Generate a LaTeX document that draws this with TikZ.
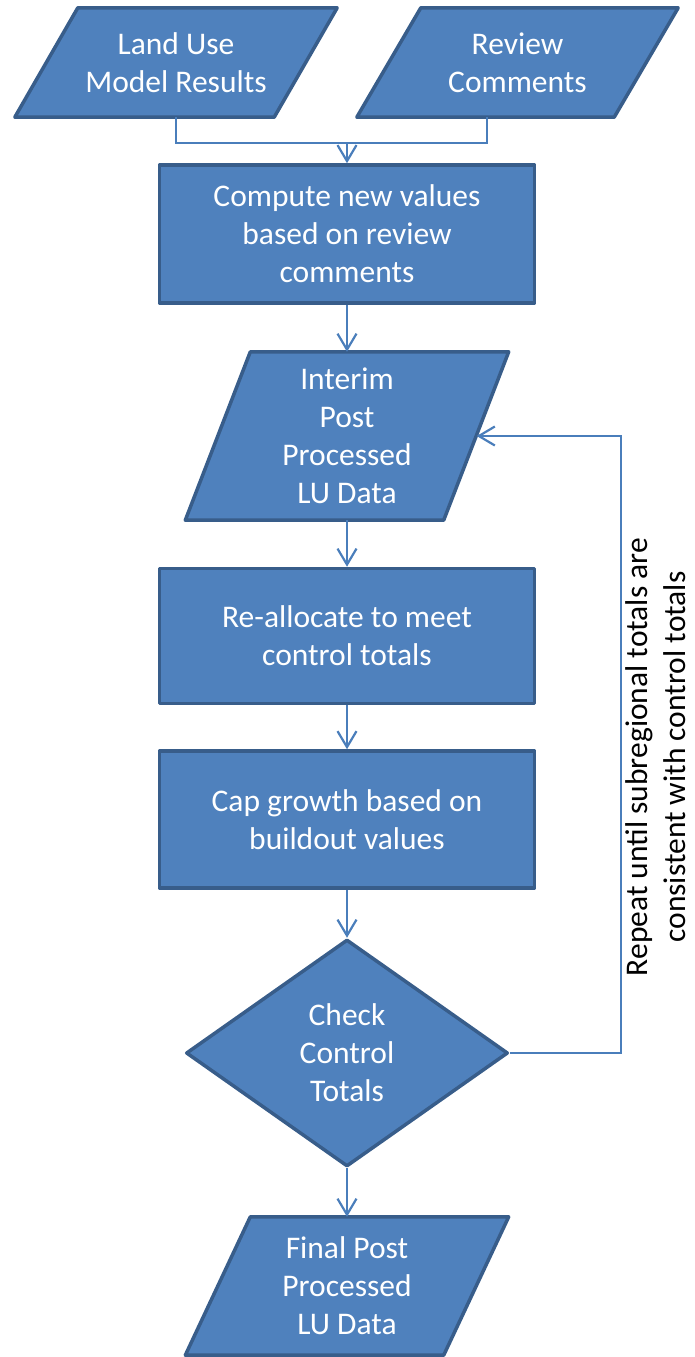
\documentclass[tikz,border=0pt]{standalone}
\usepackage{fontspec}
\setmainfont{Carlito}
\usetikzlibrary{shapes.geometric,arrows.meta,backgrounds,calc}

\definecolor{boxfill}{HTML}{4F81BD}
\definecolor{boxline}{HTML}{385D8A}
\definecolor{connline}{HTML}{4A7EBB}

\tikzset{
  boxtext/.style={align=center, text=white, inner sep=0pt,
    font=\fontsize{31.5}{38}\selectfont},
  process/.style={boxtext, rectangle, draw=boxline, fill=boxfill,
    line width=3.5pt, line join=round, minimum width=375pt, minimum height=#1},
  decision/.style={boxtext, diamond, draw=boxline, fill=boxfill,
    line width=3.5pt, line join=round, aspect=1.42,
    minimum width=322pt, minimum height=227pt},
  dataframe/.style={boxtext, rectangle, minimum width=#1},
  paraoutline/.style={draw=boxline, fill=boxfill, line width=3.5pt, line join=round},
  conn/.style={draw=connline, line width=2.2pt},
  flow/.style={conn, -{Straight Barb[length=16pt,width=19pt,line width=2.2pt]}},
  looplabel/.style={align=center, text=black, rotate=90,
    font=\fontsize{31.5}{38}\selectfont}
}

% parallelogram drawn behind a data node: #1 node name, #2 horizontal slant
\newcommand\dataslant[2]{%
  \path[paraoutline] ([xshift=#2]#1.north west) -- (#1.north east)
    -- ([xshift=-#2]#1.south east) -- (#1.south west) -- cycle;}

\begin{document}
\begin{tikzpicture}[x=1pt,y=-1pt]
\useasboundingbox (0,0) rectangle (695,1357);

% inputs
\node[dataframe=322pt, minimum height=109pt] (landuse) at (176,62.5) {Land Use\\Model Results};
\node[dataframe=321pt, minimum height=109pt] (review) at (517.5,62.5) {Review\\Comments};

% processing chain
\node[process=138pt] (compute) at (347,234) {Compute new values\\based on review\\comments};
\node[dataframe=323pt, minimum height=168pt] (interim) at (347,436) {Interim\\Post\\Processed\\LU Data};
\node[process=135pt] (realloc) at (347,636) {Re-allocate to meet\\control totals};
\node[process=137pt] (cap) at (347,819.5) {Cap growth based on\\buildout values};
\node[decision] (check) at (347,1053) {Check\\Control\\Totals};
\node[dataframe=323pt, minimum height=138pt] (final) at (347,1286) {Final Post\\Processed\\LU Data};

\begin{scope}[on background layer]
  \dataslant{landuse}{63pt}
  \dataslant{review}{64pt}
  \dataslant{interim}{65pt}
  \dataslant{final}{65pt}
\end{scope}

% merge of the two inputs
\coordinate (merge) at (347,143);
\coordinate (reviewfoot) at ([xshift=-30.5pt]review.south);
\draw[conn] (landuse.south) |- (merge) -| (reviewfoot);
\draw[flow] (merge) -- (compute.north);

\draw[flow] (compute.south) -- (interim.north);
\draw[flow] (interim.south) -- (realloc.north);
\draw[flow] (realloc.south) -- (cap.north);
\draw[flow] (cap.south) -- (check.north);
\draw[flow] (check.south) -- (final.north);

% iteration loop back to the interim data
\coordinate (loopcorner) at (621,1053);
\coordinate (loopentry) at ([xshift=-32pt]interim.east);
\draw[flow] (check.east) -- (loopcorner) |- (loopentry);

\node[looplabel] (repeat) at (656,757) {Repeat until subregional totals are\\consistent with control totals};
\end{tikzpicture}
\end{document}
